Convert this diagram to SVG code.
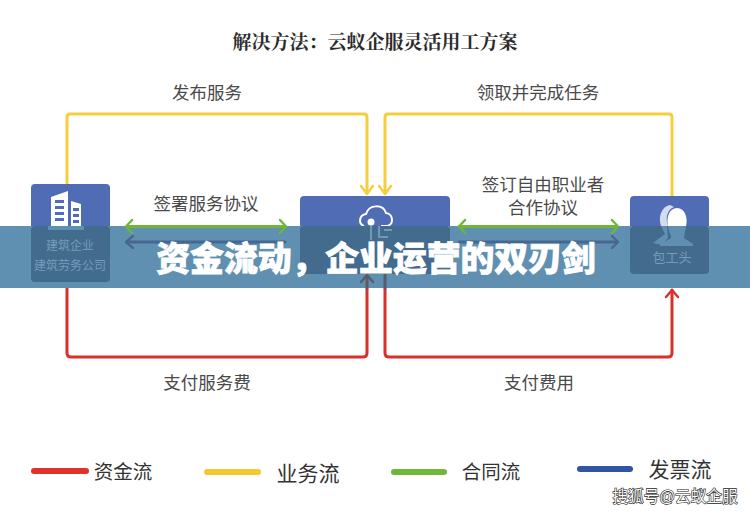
<svg xmlns="http://www.w3.org/2000/svg" width="750" height="514" viewBox="0 0 750 514">
<style>
text{font-family:"Liberation Sans","Noto Sans CJK SC",sans-serif;fill:#4a4a4a;text-anchor:middle}
.l{font-size:17.5px}
.n{fill:#506cb5}
.c{fill:none;stroke-width:3;stroke-linejoin:round;stroke-linecap:round}
.a{fill:none;stroke-width:2.4;stroke-linejoin:round;stroke-linecap:round}
.y{stroke:#f6cd3d}.r{stroke:#d9302a}.g{stroke:#70b637}.b{stroke:#47678f}.d{stroke:#5a5a68}
.k{stroke-width:6;stroke-linecap:round;fill:none}
.w{font-size:12px;fill:#739db9}
.lg{fill:#333}
</style>
<rect width="750" height="514" fill="#fff"/>
<text x="375" y="49" style="font-family:'Noto Serif CJK SC','Noto Sans CJK SC',sans-serif;font-weight:700;fill:#2b2b2b;font-size:19px">解决方法：云蚁企服灵活用工方案</text>
<g id="connectors">
<path class="c y" d="M67 184V117Q67 114 70 114H364Q367 114 367 117V193"/>
<path class="a y" d="M361 186L367 194L373 186"/>
<path class="c y" d="M672 196V117Q672 114 669 114H388Q385 114 385 117V193"/>
<path class="a y" d="M379 186L385 194L391 186"/>
<path class="c r" d="M67 288V353Q67 357 71 357H363Q367 357 367 353V288"/>
<path class="c r" d="M385 288V353Q385 357 389 357H668Q672 357 672 353V290"/>
<path class="a r" d="M666 297L672 290L678 297"/>
</g>
<text class="l" x="207" y="99">发布服务</text>
<text class="l" x="538" y="99">领取并完成任务</text>
<text class="l" x="206" y="210">签署服务协议</text>
<text class="l" x="543" y="191">签订自由职业者</text>
<text class="l" x="543" y="214">合作协议</text>
<text class="l" x="207" y="389">支付服务费</text>
<text class="l" x="539" y="389">支付费用</text>
<g id="node-company">
<rect class="n" x="31" y="184" width="79" height="98" rx="4"/>
<path fill="#fff" d="M51 197L68 191V226H51ZM71 201L81 204V226H71Z"/>
<path fill="#506cb5" d="M55 200H64V203H55ZM55 206H64V209H55ZM55 212H64V215H55ZM55 218H64V221H55ZM73 208H79V211H73ZM73 214H79V217H73ZM73 220H79V223H73Z"/>
</g>
<g id="node-platform">
<rect class="n" x="300" y="196" width="150" height="78" rx="4"/>
<path fill="none" stroke="#fff" stroke-width="2" d="M364 226C358 224 359 215 366 214C369 204 383 204 386 213C394 214 394 226 386 226H381"/>
<circle cx="371" cy="222" r="3.500" fill="#fff"/>
</g>
<g id="node-foreman">
<rect class="n" x="630" y="196" width="79" height="78" rx="4"/>
<path fill="#d5dcef" d="M670 205C661 207 658 217 661 226H668C665 218 667 210 674 207Z"/>
<path fill="#fff" d="M677 208C669 208 666 218 668 226H686C688 218 685 208 677 208Z"/>
</g>
<rect id="banner" x="0" y="226" width="750" height="62" fill="#5f90b1"/>
<g id="banner-nodes">
<rect x="31" y="226" width="79" height="56" rx="4" fill="#426b8e"/>
<rect x="300" y="226" width="150" height="48" rx="4" fill="#426b8e"/>
<rect x="630" y="226" width="79" height="48" rx="4" fill="#426b8e"/>
<path fill="#5f90b1" d="M48 226H84V230H48Z"/>
<path fill="#5f90b1" d="M661 226L665 234L653 243L662 245L668 238L667 226ZM668 226C669 234 672 236 671 238L660 245V246H693V244L684 238C684 234 686 230 686 226Z"/>
<path fill="none" stroke="#6f9ab6" stroke-width="2" d="M371 226V240M379 226V237H388M384 230H392"/>
</g>
<g id="banner-connectors">
<path class="c g" d="M127 226.500H285"/>
<path class="a g" d="M132 220L126 226.500L132 233M280 220L286 226.500L280 233"/>
<path class="c g" d="M459 226.500H617"/>
<path class="a g" d="M465 220L459 226.500L465 233M612 220L618 226.500L612 233"/>
<path class="c b" d="M127 242H285"/>
<path class="a b" d="M133 236L126 242L133 248"/>
<path class="c b" d="M459 242H617"/>
<path class="a b" d="M612 236L618 242L612 248"/>
<path class="c d" d="M367 276V288"/>
<path class="a d" d="M361 282L367 275L373 282"/>
<path class="c d" d="M385 274V288"/>
</g>
<text class="w" x="70" y="250">建筑企业</text>
<text class="w" x="70" y="270">建筑劳务公司</text>
<text class="w" x="672" y="262" style="font-size:13px">包工头</text>
<text id="banner-title" x="376" y="271" style="font-size:33.800px;font-weight:900;fill:#fff;stroke:#fff;stroke-width:.8">资金流动，企业运营的双刃剑</text>
<g id="legend">
<path class="k" stroke="#e0322b" d="M34 471H86"/>
<path class="k" stroke="#f5c92e" d="M207 472H258"/>
<path class="k" stroke="#70b637" d="M394 472H444"/>
<path class="k" stroke="#2f55a4" d="M580 469H630"/>
<text class="lg" x="123" y="479" style="font-size:19.500px">资金流</text>
<text class="lg" x="308" y="481" style="font-size:21px">业务流</text>
<text class="lg" x="491" y="479" style="font-size:19.500px">合同流</text>
<text class="lg" x="680" y="477" style="font-size:21px">发票流</text>
</g>
<text x="675" y="502" style="font-size:15.600px;fill:#fff;stroke:#222;stroke-width:1.200;paint-order:stroke">搜狐号@云蚁企服</text>
</svg>
